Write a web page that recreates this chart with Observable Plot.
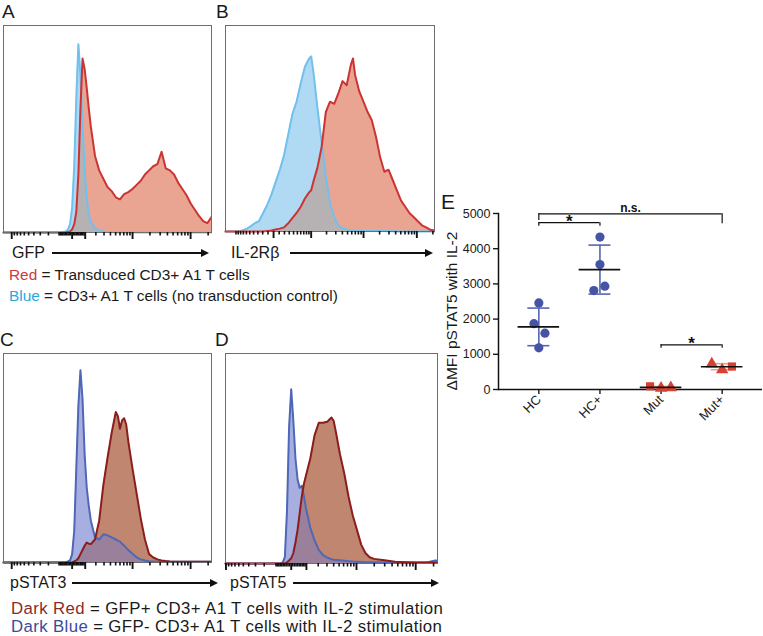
<!DOCTYPE html>
<html><head><meta charset="utf-8">
<script src="https://cdn.jsdelivr.net/npm/d3@7"></script>
<script src="https://cdn.jsdelivr.net/npm/@observablehq/plot@0.6"></script>
<style>
body{margin:0;background:#fff;font-family:"Liberation Sans",Arial,Helvetica,sans-serif;}
#fig{position:relative;width:763px;height:636px;overflow:hidden;background:#fff;}
.t{position:absolute;white-space:nowrap;line-height:1;color:#1a1a1a;}
.arrow{position:absolute;height:2px;background:#111;}
.arrow::after{content:"";position:absolute;right:-2px;top:-3px;border-left:8px solid #111;border-top:4px solid transparent;border-bottom:4px solid transparent;}
</style></head><body><div id="fig"></div>
<script>
// ---------- Panel A (GFP) histogram, x and y in % of frame ----------
const aBins = [0,26,28,30,31,32,33,34,35,36,37,38,39,40,41,42,44,46,48,50,52,54,56,58,60,62,64,66,68,70,72,74,76,78,80,82,84,86,88,90,92,94,96,98,100];
const aRed  = [0,0,0,0,0.2,0.5,1.5,4,10,28,60,84,79,70,60,51,37,30,26,22,20,17,16,18.5,19.5,21,23,25,28,30,32,33,39,31,30,28,24,21,18,14,11,8,5.5,4.5,7.5];
const aBlue = [0,0,0,0.5,1.5,4,12,32,65,91,76,52,30,17,9,5,2,1,0.5,0.3,0.2,0,0,0,0,0,0,0,0,0,0,0,0,0,0,0,0,0,0,0,0,0,0,0,0];
// ---------- Panel B (IL-2Rβ) ----------
const bBins = [0,6,8,10,12,14,16,18,20,22,24,26,28,30,32,34,36,38,40,41,42,44,46,48,50,52,54,56,58,60,61,62,64,66,68,70,72,74,76,78,80,82,84,86,88,90,92,94,96,98,100];
const bRed  = [0,0,0,0,0,0,0,0,0.3,0.5,1,1.4,2,4,6.5,9,12,16,19,20,24,31,41,58,63,62,67,73,71,81,84,76,68,63,58,54,46,36,29,30,25,20,15,12,9,7,5,3,2,0.8,0.5];
const bBlue = [0,0,0.5,1.2,2.5,4,5,9,13,18,24,30,37,47,57,63,72,80,84,85,78,60,43,27,14,7,3,1.5,1,0.6,0.5,0.5,0.4,0.3,0.3,0.2,0.2,0.2,0.2,0.1,0.1,0,0,0,0,0,0,0,0,0,0];
// ---------- Panel C (pSTAT3) ----------
const cBins = [0,30,32,33,34,35,36,37,38,39,40,41,42,44,46,48,50,52,54,55,56,57,58,59,60,62,64,66,68,70,72,74,76,78,80,85,90,95,100];
const cRed  = [0,0,0,0,0.5,1,2,4,6,8,9.5,9,8.8,11,20,37,50,62,72,70,64,68,69,66,58,45,33,21,11,4,2.4,1.5,1,0.7,0.5,0.4,0.3,0.3,0.3];
const cBlue = [0,0,1,4,15,45,75,92,78,52,36,27,20,12,11,13.5,13,12,11,10.5,10,9,8,7,6,4.2,2.5,1.5,1,0.6,0.5,0.4,0.4,0.4,0.4,0.4,0.4,0.4,0.4];
// ---------- Panel D (pSTAT5) ----------
const dBins = [0,26,27,28,29,30,31,32,33,34,35,36,37,38,40,42,44,46,48,50,51,52,54,56,58,60,62,64,66,68,70,75,80,85,90,95,99,100];
const dRed  = [0,0,0,0,0.5,1.5,2.5,5,10,16,24,32,38,42,50,61,67,67,67.5,69.5,68,63,52,43,32,23,16,9,5,3,2.2,1.6,0.8,0.6,0.5,0.5,0.5,0.5];
const dBlue = [0,0,0.5,3,25,65,83,68,50,40,36,37,32,26,17,11,6.5,4,2.8,2,1.8,1.7,1.5,1.3,1.1,0.9,0.8,0.7,0.6,0.6,0.6,0.5,0.5,0.5,0.5,0.5,1.5,1.2];
// ---------- Cytometry axis tick values (biexponential display) ----------
const majorTickValues = [-10000, 0, 1000, 10000, 100000];
const minorTickValues = [-9000,-8000,-7000,-6000,-5000,-4000,-3000,-2000,-1000,-900,-800,-700,-600,-500,-400,-300,-200,-100,
  100,200,300,400,500,600,700,800,900,2000,3000,4000,5000,6000,7000,8000,9000,
  20000,30000,40000,50000,60000,70000,80000,90000,200000];
// ---------- Panel E ----------
const groups = ["HC","HC+","Mut","Mut+"];
const hcValues      = [2460, 1870, 1600, 1185];
const hcPlusValues  = [4330, 3550, 2935, 2810];
const mutValues     = [90, 40, 50];
const mutPlusValues = [730, 560, 653];
const hcJitter      = [0, -0.08, 0.1, 0];
const hcPlusJitter  = [0, 0, 0.08, -0.1];
const mutJitter     = [-0.18, 0, 0.16];
const mutPlusJitter = [-0.17, 0, 0.16];
const mutSymbols     = ["square","triangle","triangle"];
const mutPlusSymbols = ["triangle","triangle","square"];
const yTicksE = [0,1000,2000,3000,4000,5000];
const comparisons = [
  {a:0, b:1, y:4740, ya:4640, yb:4640, label:"*"},
  {a:0, b:3, y:4990, ya:4800, yb:4710, label:"n.s."},
  {a:2, b:3, y:1270, ya:1175, yb:1175, label:"*"}
];

const FONT = '"Liberation Sans", Arial, Helvetica, sans-serif';
const fig = document.getElementById("fig");
function put(el, left, top){ el.style.position="absolute"; el.style.left=left+"px"; el.style.top=top+"px"; fig.appendChild(el); return el; }
function txt(html, left, top, size, extra){ const d=document.createElement("div"); d.className="t"; d.innerHTML=html; d.style.fontSize=size+"px"; if(extra) Object.assign(d.style, extra); return put(d,left,top); }
function arrow(left, top, width){ const d=document.createElement("div"); d.className="arrow"; d.style.width=width+"px"; return put(d,left,top); }

const lightColors = {redFill:"#e9a592", redLine:"#cc3434", blueFill:"#b0d9f3", blueLine:"#72c0ec", both:"#b6b1b2"};
const darkColors  = {redFill:"#c0866f", redLine:"#8c1d1d", blueFill:"#a7afe0", blueLine:"#4e67b7", both:"#9a809b"};

function histogram(bins, red, blue, colors, ax, fw, fh){
  const rows = bins.map((x,k)=>({x, red:red[k], blue:blue[k], both:Math.min(red[k], blue[k])}));
  const pos = v => ax.z + ax.d*Math.asinh(v/ax.s)/Math.LN10;
  const inside = p => p >= 0 && p <= 100;
  const major = majorTickValues.map(pos).filter(inside);
  const minor = minorTickValues.map(pos).filter(inside);
  return Plot.plot({
    width: fw+2, height: fh+11, marginLeft:1, marginRight:1, marginTop:1, marginBottom:10,
    style:{background:"transparent", fontFamily:FONT},
    x:{domain:[0,100]},
    y:{domain:[0,100], axis:null},
    marks:[
      Plot.areaY(rows,{x:"x", y:"red", fill:colors.redFill}),
      Plot.areaY(rows,{x:"x", y:"blue", fill:colors.blueFill}),
      Plot.areaY(rows,{x:"x", y:"both", fill:colors.both}),
      Plot.lineY(rows,{x:"x", y:"blue", stroke:colors.blueLine, strokeWidth:2}),
      Plot.lineY(rows,{x:"x", y:"red", stroke:colors.redLine, strokeWidth:2}),
      Plot.frame({stroke:"#6e6e6e", strokeWidth:1}),
      Plot.axisX(minor,{tickSize:3.5, tickPadding:0, tickFormat:()=>"", label:null, stroke:"#111", strokeWidth:1.6}),
      Plot.axisX(major,{tickSize:7, tickPadding:0, tickFormat:()=>"", label:null, stroke:"#111", strokeWidth:1.9})
    ]
  });
}

put(histogram(aBins, aRed, aBlue, lightColors, {z:33, d:28, s:1850}, 208, 207), 2, 24);
put(histogram(bBins, bRed, bBlue, lightColors, {z:23, d:25.5, s:410}, 209, 206), 224, 24);
put(histogram(cBins, cRed, cBlue, darkColors, {z:33, d:28, s:1850}, 208, 209), 2, 352);
put(histogram(dBins, dRed, dBlue, darkColors, {z:31, d:28, s:1600}, 212, 210), 224, 352);

// panel letters
txt("A", 2, 2, 19);
txt("B", 216, 2, 19);
txt("C", 0, 330, 19);
txt("D", 215, 330, 19);
txt("E", 441, 191, 21);

// parameter labels with arrows
txt("GFP", 12, 245, 16); arrow(52, 252, 155);
txt("IL-2Rβ", 231, 245, 16); arrow(290, 252, 141);
txt("pSTAT3", 10, 575, 16); arrow(72, 582, 144);
txt("pSTAT5", 230, 575, 16); arrow(293, 582, 144);

// legends
txt('<span style="color:#d2373c">Red</span> = Transduced CD3+ A1 T cells', 9, 267, 15.4);
txt('<span style="color:#27a8e0">Blue</span> = CD3+ A1 T cells (no transduction control)', 9, 288, 15.4);
txt('<span style="color:#8a2b28">Dark Red</span> = GFP+ CD3+ A1 T cells with IL-2 stimulation', 11, 601, 16.8, {letterSpacing:"0.38px"});
txt('<span style="color:#3c4b9c">Dark Blue</span> = GFP- CD3+ A1 T cells with IL-2 stimulation', 11, 619, 16.8, {letterSpacing:"0.38px"});

// ---------- Panel E plot ----------
const valuesByGroup = [hcValues, hcPlusValues, mutValues, mutPlusValues];
const jitterByGroup = [hcJitter, hcPlusJitter, mutJitter, mutPlusJitter];
const symbolsByGroup = [null, null, mutSymbols, mutPlusSymbols];
const blueDot = "#4754a6", redDot = "#d8402f";
const points = [];
valuesByGroup.forEach((vals,i)=>vals.forEach((v,j)=>points.push({
  x: i + jitterByGroup[i][j], v,
  sym: symbolsByGroup[i] ? symbolsByGroup[i][j] : "circle",
  color: i < 2 ? blueDot : redDot
})));
const stats = valuesByGroup.map((vals,i)=>({i, mean:d3.mean(vals), sd:d3.deviation(vals), bar: i < 2 ? "#5667b1" : "#f09d92"}));
const capHalf = 0.18, meanHalf = 0.34;

const plotE = Plot.plot({
  width:323, height:250, marginLeft:58, marginRight:1, marginTop:23, marginBottom:51,
  style:{background:"transparent", fontFamily:FONT, fontSize:"12px", color:"#1a1a1a"},
  x:{domain:[-0.66, 3.66]},
  y:{domain:[0,5000]},
  marks:[
    Plot.axisY(yTicksE,{tickSize:5, tickPadding:3, tickFormat:d3.format("d"), label:null, strokeWidth:1.4, fontSize:12.5}),
    Plot.axisX([0,1,2,3],{tickSize:5, tickPadding:3, tickRotate:-45, tickFormat:i=>groups[i], label:null, strokeWidth:1.4, fontSize:13}),
    Plot.ruleY([0],{stroke:"#111", strokeWidth:1.5}),
    Plot.frame({anchor:"left", stroke:"#111", strokeWidth:1.5}),
    // error bars (mean ± SD)
    Plot.ruleX(stats,{x:"i", y1:d=>d.mean-d.sd, y2:d=>d.mean+d.sd, stroke:"bar", strokeWidth:1.6}),
    Plot.ruleY(stats,{y:d=>d.mean+d.sd, x1:d=>d.i-capHalf, x2:d=>d.i+capHalf, stroke:"bar", strokeWidth:1.6}),
    Plot.ruleY(stats,{y:d=>d.mean-d.sd, x1:d=>d.i-capHalf, x2:d=>d.i+capHalf, stroke:"bar", strokeWidth:1.6}),
    Plot.dot(points,{x:"x", y:"v", symbol:"sym", fill:"color", r:4.6}),
    Plot.ruleY(stats,{y:"mean", x1:d=>d.i-meanHalf, x2:d=>d.i+meanHalf, stroke:"#111", strokeWidth:1.6}),
    // significance brackets
    Plot.ruleY(comparisons,{y:"y", x1:"a", x2:"b", stroke:"#111", strokeWidth:1.2}),
    Plot.ruleX(comparisons,{x:"a", y1:"ya", y2:"y", stroke:"#111", strokeWidth:1.2}),
    Plot.ruleX(comparisons,{x:"b", y1:"yb", y2:"y", stroke:"#111", strokeWidth:1.2}),
    Plot.text(comparisons.filter(c=>c.label==="*"),{x:d=>(d.a+d.b)/2, y:"y", text:"label", fontSize:17, fontWeight:"bold", dy:-1, fill:"#111"}),
    Plot.text(comparisons.filter(c=>c.label!=="*"),{x:d=>(d.a+d.b)/2, y:"y", text:"label", fontSize:12, fontWeight:"bold", dy:-6, fill:"#111"})
  ]
});
put(plotE, 440, 190);

// y-axis title of panel E
txt("ΔMFI pSTAT5 with IL-2", 452, 311, 15.5, {transform:"translate(-50%,-50%) rotate(-90deg)"});
</script></body></html>
